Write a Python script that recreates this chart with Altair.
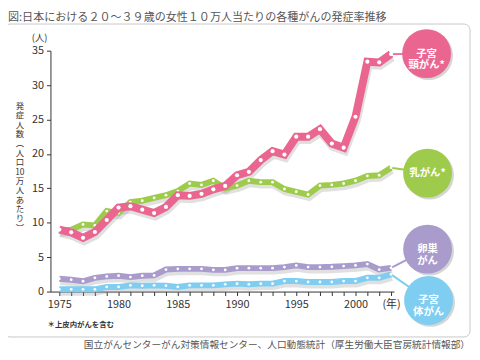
import altair as alt
import pandas as pd

years = list(range(1975, 2004))
cervical = [9.0, 8.6, 7.8, 8.65, 10.4, 12.2, 12.4, 11.9, 11.4, 12.3,
            14.0, 13.9, 14.2, 14.85, 15.35, 16.9, 17.4, 19.1, 20.4, 19.9,
            22.5, 22.5, 23.6, 21.5, 20.9, 25.4, 33.4, 33.3, 34.5]
breast = [8.9, 9.0, 9.75, 9.6, 11.7, 11.4, 13.0, 13.2, 13.6, 14.0,
          14.6, 15.7, 15.5, 16.1, 15.0, 15.4, 16.1, 15.9, 15.9, 14.9,
          14.5, 14.1, 15.4, 15.5, 15.7, 16.1, 16.8, 16.9, 18.0]
ovarian = [1.87, 1.72, 1.5, 2.0, 2.2, 2.3, 2.1, 2.3, 2.35, 3.2,
           3.3, 3.3, 3.3, 3.15, 3.15, 3.4, 3.4, 3.4, 3.4, 3.55,
           3.8, 3.55, 3.55, 3.6, 3.7, 3.8, 4.0, 3.2, 3.45]
corpus = [0.33, 0.33, 0.33, 0.33, 0.67, 0.67, 0.9, 0.85, 0.9, 0.85,
          0.67, 0.9, 0.9, 0.9, 1.05, 1.15, 1.05, 1.15, 1.15, 1.53,
          1.53, 1.39, 1.39, 1.39, 1.53, 1.53, 2.0, 2.0, 2.5]

series_names = ["子宮体がん", "卵巣がん", "乳がん", "子宮頸がん"]
series_vals = [corpus, ovarian, breast, cervical]
series_labels = [["子宮", "体がん"], ["卵巣", "がん"], ["乳がん*"], ["子宮", "頸がん*"]]
colors = ["#7fcdf1", "#a99bcb", "#9fcb4c", "#ea6690"]

title_text = "図:日本における２０～３９歳の女性１０万人当たりの各種がんの発症率推移"
source_text = "国立がんセンターがん対策情報センター、人口動態統計（厚生労働大臣官房統計情報部）"
note_text = "＊上皮内がんを含む"
ytitle_lines = ["発", "症", "人", "数", "︵", "人", "口", "10", "万", "人", "あ", "た", "り", "︶"]

FONT = "Noto Sans CJK JP"

frames = [pd.DataFrame({"year": years, "value": v, "series": n})
          for n, v in zip(series_names, series_vals)]
df = pd.concat(frames, ignore_index=True)
last_df = pd.DataFrame({"year": [years[-1]] * 4,
                        "value": [v[-1] for v in series_vals],
                        "series": series_names})
one = pd.DataFrame({"k": [0]})

xscale = alt.Scale(domain=[1974.25, 2003.25], nice=False, zero=False)
yscale = alt.Scale(domain=[0, 35], nice=False)

xaxis = alt.Axis(values=years, title=None, grid=False, domainColor="#333", tickColor="#333",
                 tickSize=4, labelFont=FONT, labelFontSize=11, labelColor="#333",
                 labelOverlap=False, labelPadding=3,
                 labelExpr="datum.value == 2003 ? '(年)' : (datum.value % 5 == 0 ? datum.value : '')")
yaxis = alt.Axis(values=[0, 5, 10, 15, 20, 25, 30, 35], title=None, grid=False,
                 domainColor="#333", tickColor="#333", tickSize=4, labelFont=FONT,
                 labelFontSize=11, labelColor="#333", labelPadding=3)

X = alt.X("year:Q", scale=xscale, axis=xaxis)
Y = alt.Y("value:Q", scale=yscale, axis=yaxis)

layers = []

# frame
layers.append(alt.Chart(one).mark_rect(fillOpacity=0, stroke="#c8c8c8", strokeWidth=1,
                                       cornerRadius=6).encode(
    x=alt.value(-47), x2=alt.value(425), y=alt.value(-27), y2=alt.value(290)))

widths = [6, 6, 6, 8]
psizes = [8, 8, 8, 18]

# shadows
for n, w in zip(series_names, widths):
    layers.append(alt.Chart(df).transform_filter(alt.datum.series == n).mark_line(
        color="#999", opacity=0.3, strokeWidth=w + 1, xOffset=1, yOffset=3,
        strokeJoin="miter").encode(x=X, y=Y))

# connectors
targets = [(383, 253), (382, 201), (382, 124), (381, 3)]
for n, c, (tx, ty) in zip(series_names, colors, targets):
    layers.append(alt.Chart(last_df).transform_filter(alt.datum.series == n).mark_rule(
        color=c, strokeWidth=2).encode(x=X, y=Y, x2=alt.value(tx), y2=alt.value(ty)))

# lines and points
for n, c, w, ps in zip(series_names, colors, widths, psizes):
    sub = alt.Chart(df).transform_filter(alt.datum.series == n)
    layers.append(sub.mark_line(color=c, strokeWidth=w, strokeJoin="miter").encode(x=X, y=Y))
    layers.append(sub.mark_point(filled=True, color="white", opacity=1, size=ps).encode(x=X, y=Y))

# label bubbles
for lines, c, (tx, ty) in zip(series_labels, colors, targets):
    layers.append(alt.Chart(one).mark_circle(color="#888", opacity=0.35, size=2450,
                                             xOffset=2, yOffset=2).encode(
        x=alt.value(tx), y=alt.value(ty)))
    layers.append(alt.Chart(one).mark_circle(color=c, opacity=1, size=2450).encode(
        x=alt.value(tx), y=alt.value(ty)))
    layers.append(alt.Chart(one).mark_text(text=lines, color="white", font=FONT,
                                           fontSize=10.5, fontWeight="bold", lineHeight=12,
                                           align="center", baseline="middle").encode(
        x=alt.value(tx), y=alt.value(ty)))

# texts
layers.append(alt.Chart(one).mark_text(text=title_text, font=FONT, fontSize=11.2, color="#555",
                                       align="left", baseline="top").encode(
    x=alt.value(-43), y=alt.value(-39)))
layers.append(alt.Chart(one).mark_text(text=source_text, font=FONT, fontSize=9.8, color="#555",
                                       align="right", baseline="middle").encode(
    x=alt.value(425), y=alt.value(298)))
layers.append(alt.Chart(one).mark_text(text=note_text, font=FONT, fontSize=7.5, color="#333",
                                       fontWeight="bold", align="left", baseline="middle").encode(
    x=alt.value(-3), y=alt.value(278)))
layers.append(alt.Chart(one).mark_text(text="(人)", font=FONT, fontSize=9.5, color="#333",
                                       align="center", baseline="middle").encode(
    x=alt.value(-11), y=alt.value(-13)))
layers.append(alt.Chart(one).mark_text(text=ytitle_lines, font=FONT, fontSize=8.5, color="#333",
                                       lineHeight=9.5, align="center", baseline="top").encode(
    x=alt.value(-31), y=alt.value(52)))

chart = alt.layer(*layers).properties(
    width=348, height=244, autosize="none",
    padding={"left": 43, "top": 41, "right": 79, "bottom": 59}
).configure_view(stroke=None)

chart.save("out.html", embed_options={"renderer": "svg", "actions": False})
